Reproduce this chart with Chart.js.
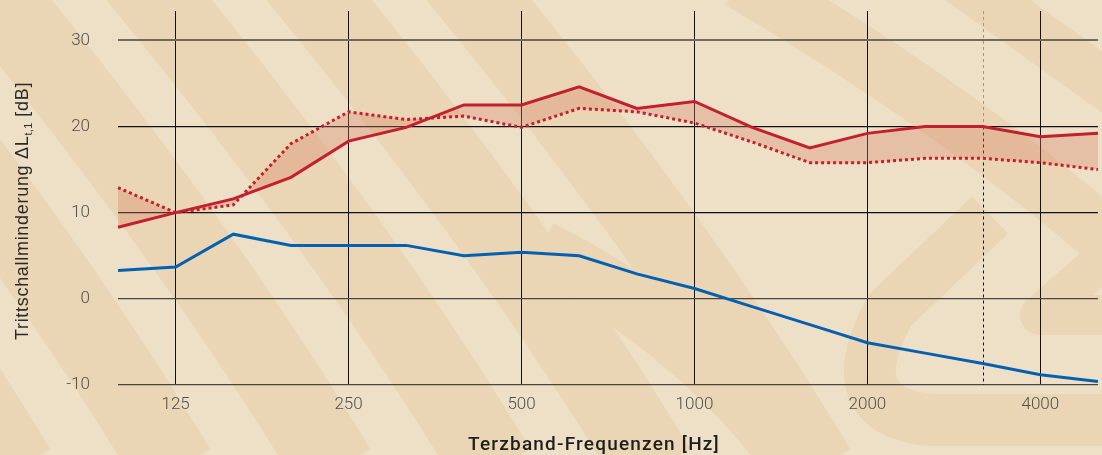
<!DOCTYPE html>
<html>
<head>
<meta charset="utf-8">
<script src="https://cdn.jsdelivr.net/npm/chart.js@4"></script>
<style>
    html, body { margin: 0; padding: 0; background: #ede0c7; }
    #wrap { width: 1102px; height: 455px; position: relative; }
</style>
</head>
<body>
<div id="wrap"><canvas id="trittschallChart"></canvas></div>
<script>
// Third-octave bands (x axis)
const bands = ['100', '125', '160', '200', '250', '315', '400', '500', '630', '800', '1000', '1250', '1600', '2000', '2500', '3150', '4000', '5000'];
const shownBands = ['125', '250', '500', '1000', '2000', '4000'];
const markerBand = '3150';   // dashed vertical line
const yTicks = [-10, 0, 10, 20, 30];
const yMin = -10;
const yMax = 33.4;

// Series values [dB]
const redSolid = [8.3, 10.0, 11.6, 14.1, 18.3, 19.9, 22.5, 22.5, 24.6, 22.1, 22.9, 19.9, 17.5, 19.2, 20.0, 20.0, 18.8, 19.2];
const redDotted = [12.9, 10.0, 10.9, 18.0, 21.7, 20.8, 21.2, 19.9, 22.1, 21.7, 20.4, 18.2, 15.8, 15.8, 16.3, 16.3, 15.8, 15.0];
const blueLine = [3.3, 3.7, 7.5, 6.2, 6.2, 6.2, 5.0, 5.4, 5.0, 2.9, 1.2, -0.9, -3.0, -5.1, -6.3, -7.5, -8.8, -9.6];

const xTitle = 'Terzband-Frequenzen [Hz]';
const yTitleMain = 'Trittschallminderung \u0394L';
const yTitleSub = 't,1';
const yTitleTail = ' [dB]';

let trittChart = null;

// background: light beige with darker curved bands (decoration only)
const backgroundPlugin = {
    id: 'beigeBackground',
    beforeDraw(chart) {
        const ctx = chart.ctx;
        const w = chart.width, h = chart.height;
        ctx.save();
        ctx.fillStyle = '#ede0c7';
        ctx.fillRect(0, 0, w, h);
        ctx.strokeStyle = '#ead6b4';
        ctx.lineCap = 'butt';
        ctx.lineJoin = 'round';

        // left: steep diagonal bands
        ctx.lineWidth = 82;
        [-330, -170, -10, 150, 310, 470].forEach(x0 => {
            ctx.beginPath();
            ctx.moveTo(x0 - 40, -60);
            ctx.quadraticCurveTo(x0 + 200, 228, x0 + 345, 470);
            ctx.stroke();
        });

        // right: shallower bands
        ctx.lineWidth = 58;
        ctx.beginPath();
        ctx.moveTo(740, -20);
        ctx.quadraticCurveTo(960, 110, 1120, 250);
        ctx.stroke();
        ctx.lineWidth = 50;
        ctx.beginPath();
        ctx.moveTo(960, -20);
        ctx.lineTo(1120, 95);
        ctx.stroke();
        ctx.lineWidth = 60;
        ctx.beginPath();
        ctx.moveTo(540, 250);
        ctx.quadraticCurveTo(700, 330, 800, 470);
        ctx.stroke();

        // rounded loop shape lower right
        ctx.lineWidth = 52;
        ctx.beginPath();
        ctx.moveTo(990, 215);
        ctx.lineTo(890, 310);
        ctx.quadraticCurveTo(835, 410, 930, 420);
        ctx.lineTo(1120, 420);
        ctx.stroke();
        ctx.lineWidth = 40;
        ctx.beginPath();
        ctx.moveTo(1120, 245);
        ctx.lineTo(1040, 315);
        ctx.lineTo(1120, 315);
        ctx.stroke();
        ctx.restore();
    }
};

// dashed marker line + axis titles
const annotationPlugin = {
    id: 'extras',
    beforeDatasetsDraw(chart) {
        const ctx = chart.ctx;
        const idx = bands.indexOf(markerBand);
        const x = Math.round(chart.scales.x.getPixelForValue(idx)) + 0.5;
        const area = chart.chartArea;
        const yRed = chart.scales.y.getPixelForValue(redSolid[idx]);
        ctx.save();
        ctx.lineWidth = 1;
        ctx.setLineDash([3, 3]);
        ctx.strokeStyle = '#a39784';
        ctx.beginPath();
        ctx.moveTo(x, area.top);
        ctx.lineTo(x, yRed);
        ctx.stroke();
        ctx.strokeStyle = '#111';
        ctx.beginPath();
        ctx.moveTo(x, yRed);
        ctx.lineTo(x, area.bottom);
        ctx.stroke();
        ctx.restore();
    },
    afterDraw(chart) {
        const ctx = chart.ctx;
        ctx.save();
        // x title
        ctx.fillStyle = '#1e1e1e';
        ctx.font = '500 19px Roboto';
        if ('letterSpacing' in ctx) ctx.letterSpacing = '1.2px';
        ctx.textAlign = 'center';
        ctx.textBaseline = 'alphabetic';
        ctx.fillText(xTitle, 594, 450);

        // y title (rotated, with subscript)
        const mainFont = '400 18px "Liberation Sans"';
        const subFont = '400 11px "Liberation Sans"';
        if ('letterSpacing' in ctx) ctx.letterSpacing = '0.7px';
        ctx.font = mainFont;
        const wMain = ctx.measureText(yTitleMain).width;
        const wTail = ctx.measureText(yTitleTail).width;
        if ('letterSpacing' in ctx) ctx.letterSpacing = '0.3px';
        ctx.font = subFont;
        const wSub = ctx.measureText(yTitleSub).width;
        const total = wMain + wSub + wTail;
        ctx.translate(28, 211);
        ctx.rotate(-Math.PI / 2);
        ctx.textAlign = 'left';
        ctx.fillStyle = '#2a2a2a';
        let cx = -total / 2;
        if ('letterSpacing' in ctx) ctx.letterSpacing = '0.7px';
        ctx.font = mainFont;
        ctx.fillText(yTitleMain, cx, 0);
        cx += wMain;
        if ('letterSpacing' in ctx) ctx.letterSpacing = '0.3px';
        ctx.font = subFont;
        ctx.fillText(yTitleSub, cx, 4);
        cx += wSub;
        if ('letterSpacing' in ctx) ctx.letterSpacing = '0.7px';
        ctx.font = mainFont;
        ctx.fillText(yTitleTail, cx, 0);
        ctx.restore();
    }
};

function drawTrittschallChart() {
    if (trittChart !== null) {
        trittChart.destroy();
    }
    const ctx = document.getElementById('trittschallChart').getContext('2d');

    trittChart = new Chart(ctx, {
        type: 'line',
        data: {
            labels: bands,
            datasets: [
                {
                    label: 'solid',
                    data: redSolid,
                    borderColor: '#c41f2e',
                    borderWidth: 3,
                    pointRadius: 0,
                    tension: 0,
                    fill: false
                },
                {
                    label: 'dotted',
                    data: redDotted,
                    borderColor: '#c41f2e',
                    borderWidth: 3,
                    borderDash: [3, 3],
                    pointRadius: 0,
                    tension: 0,
                    fill: { target: 0 },
                    backgroundColor: 'rgba(214, 128, 104, 0.33)'
                },
                {
                    label: 'blue',
                    data: blueLine,
                    borderColor: '#0660b0',
                    borderWidth: 3,
                    pointRadius: 0,
                    tension: 0,
                    fill: false
                }
            ]
        },
        options: {
            maintainAspectRatio: false,
            responsive: true,
            animation: false,
            layout: { padding: { top: 11, right: 4, left: 0, bottom: 0 } },
            plugins: {
                legend: { display: false },
                tooltip: { enabled: false }
            },
            scales: {
                x: {
                    type: 'category',
                    offset: false,
                    border: { display: false },
                    grid: {
                        drawTicks: false,
                        lineWidth: 1,
                        color: c => shownBands.includes(bands[c.index]) ? '#111' : 'rgba(0,0,0,0)'
                    },
                    ticks: {
                        autoSkip: false,
                        maxRotation: 0,
                        padding: 10,
                        color: '#505050',
                        font: { family: 'Roboto', size: 17, weight: 300 },
                        callback: function (value, index) {
                            return shownBands.includes(bands[index]) ? bands[index] : '';
                        }
                    },
                    afterFit: scale => {
                        scale.height = 70;
                        scale.paddingLeft = 0;
                        scale.paddingRight = 0;
                    }
                },
                y: {
                    min: yMin,
                    max: yMax,
                    border: { display: false },
                    afterBuildTicks: scale => {
                        scale.ticks = yTicks.map(v => ({ value: v }));
                    },
                    grid: {
                        drawTicks: false,
                        lineWidth: c => c.tick && c.tick.value === 30 ? 2 : 1.2,
                        color: c => {
                            if (!c.tick) return '#111';
                            if (c.tick.value === 30) return '#736a5c';
                            if (c.tick.value === 10 || c.tick.value === 20) return '#111';
                            return '#4a463f';
                        }
                    },
                    ticks: {
                        padding: 28,
                        color: '#505050',
                        font: { family: 'Roboto', size: 17, weight: 300 }
                    },
                    afterFit: scale => {
                        scale.width = 118;
                        scale.paddingTop = 0;
                        scale.paddingBottom = 0;
                    }
                }
            }
        },
        plugins: [backgroundPlugin, annotationPlugin]
    });
}

document.addEventListener('DOMContentLoaded', function () {
    drawTrittschallChart();
});
</script>
</body>
</html>
